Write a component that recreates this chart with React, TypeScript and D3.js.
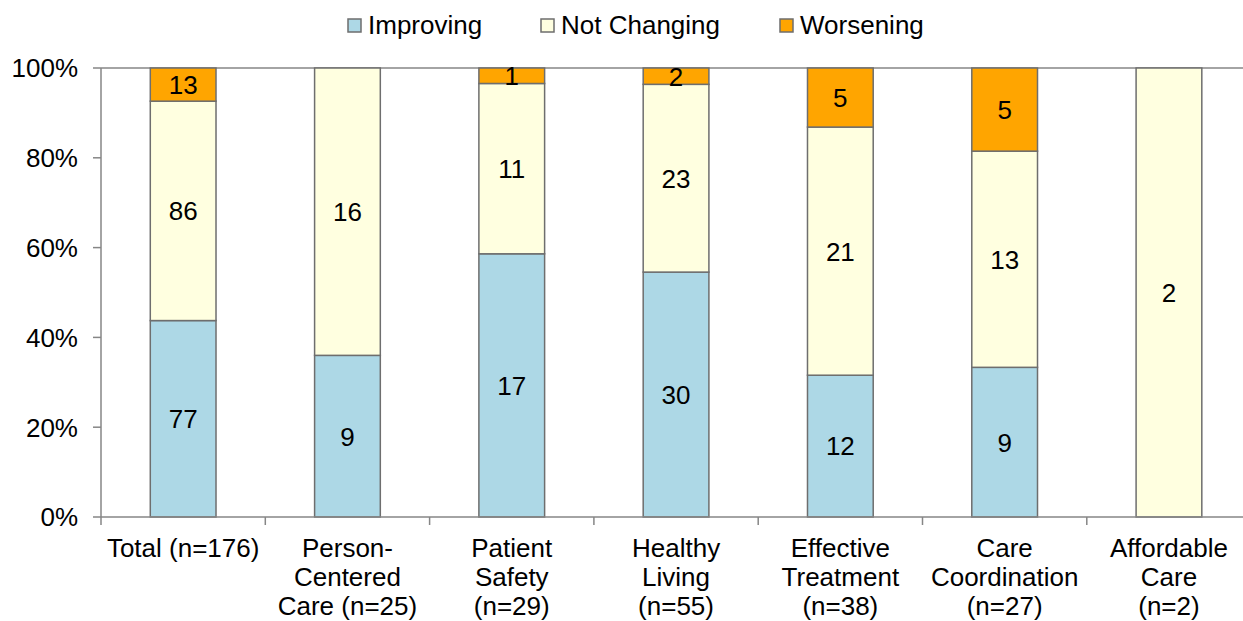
import * as d3 from "d3";
import { useEffect, useRef } from "react";

const categories = [
  ["Total (n=176)"],
  ["Person-", "Centered", "Care (n=25)"],
  ["Patient", "Safety", "(n=29)"],
  ["Healthy", "Living", "(n=55)"],
  ["Effective", "Treatment", "(n=38)"],
  ["Care", "Coordination", "(n=27)"],
  ["Affordable", "Care", "(n=2)"],
];
const improving = [77, 9, 17, 30, 12, 9, 0];
const notChanging = [86, 16, 11, 23, 21, 13, 2];
const worsening = [13, 0, 1, 2, 5, 5, 0];
const seriesNames = ["Improving", "Not Changing", "Worsening"];
const colors = ["#add8e6", "#ffffe0", "#ffa500"];
const yTicks = [0, 0.2, 0.4, 0.6, 0.8, 1];

const W = 1243;
const H = 621;
const font = "Liberation Sans, Arial, sans-serif";
const fs = 26;

function App() {
  const ref = useRef<SVGSVGElement | null>(null);

  useEffect(() => {
    const svg = d3.select(ref.current);
    svg.selectAll("*").remove();

    const margin = { top: 68, left: 101, bottom: 517 };
    const bandW = 164.3;
    const x = d3
      .scaleBand<number>()
      .domain(d3.range(categories.length))
      .range([margin.left, margin.left + bandW * categories.length])
      .paddingInner(0)
      .paddingOuter(0);
    const y = d3.scaleLinear().domain([0, 1]).range([margin.bottom, margin.top]);

    const rows = categories.map((_, i) => ({
      i,
      Improving: improving[i],
      "Not Changing": notChanging[i],
      Worsening: worsening[i],
    }));
    const stacked = d3
      .stack<any>()
      .keys(seriesNames)
      .offset(d3.stackOffsetExpand)(rows);

    const barW = x.bandwidth() * 0.4;
    const axisColor = "#868686";

    // plot frame top line
    svg
      .append("line")
      .attr("x1", margin.left)
      .attr("x2", W + 20)
      .attr("y1", margin.top)
      .attr("y2", margin.top)
      .attr("stroke", axisColor)
      .attr("stroke-width", 1.5);

    // bars
    stacked.forEach((s, si) => {
      const g = svg.append("g");
      s.forEach((d, i) => {
        const v = (rows[i] as any)[seriesNames[si]];
        if (!v) return;
        const cx = (x(i) as number) + x.bandwidth() / 2;
        g.append("rect")
          .attr("x", cx - barW / 2)
          .attr("y", y(d[1]))
          .attr("width", barW)
          .attr("height", y(d[0]) - y(d[1]))
          .attr("fill", colors[si])
          .attr("stroke", "#6e6e6e")
          .attr("stroke-width", 1.5);
        g.append("text")
          .attr("x", cx)
          .attr("y", (y(d[0]) + y(d[1])) / 2)
          .attr("dy", "0.36em")
          .attr("text-anchor", "middle")
          .attr("font-family", font)
          .attr("font-size", fs)
          .attr("fill", "#000")
          .text(v);
      });
    });

    // y axis
    svg
      .append("line")
      .attr("x1", margin.left)
      .attr("x2", margin.left)
      .attr("y1", margin.top)
      .attr("y2", margin.bottom)
      .attr("stroke", axisColor)
      .attr("stroke-width", 1.5);
    yTicks.forEach((t) => {
      svg
        .append("line")
        .attr("x1", margin.left - 8)
        .attr("x2", margin.left)
        .attr("y1", y(t))
        .attr("y2", y(t))
        .attr("stroke", axisColor)
        .attr("stroke-width", 1.5);
      svg
        .append("text")
        .attr("x", 78)
        .attr("y", y(t))
        .attr("dy", "0.36em")
        .attr("text-anchor", "end")
        .attr("font-family", font)
        .attr("font-size", fs)
        .text(d3.format(".0%")(t));
    });

    // x axis
    svg
      .append("line")
      .attr("x1", margin.left)
      .attr("x2", W + 20)
      .attr("y1", margin.bottom)
      .attr("y2", margin.bottom)
      .attr("stroke", axisColor)
      .attr("stroke-width", 1.5);
    d3.range(categories.length + 1).forEach((i) => {
      const tx = margin.left + i * x.bandwidth();
      svg
        .append("line")
        .attr("x1", tx)
        .attr("x2", tx)
        .attr("y1", margin.bottom)
        .attr("y2", margin.bottom + 8)
        .attr("stroke", axisColor)
        .attr("stroke-width", 1.5);
    });
    categories.forEach((lines, i) => {
      const cx = (x(i) as number) + x.bandwidth() / 2;
      const t = svg
        .append("text")
        .attr("text-anchor", "middle")
        .attr("font-family", font)
        .attr("font-size", fs);
      lines.forEach((l, li) => {
        t.append("tspan")
          .attr("x", cx)
          .attr("y", 557 + li * 29)
          .text(l);
      });
    });

    // legend
    const legendX = [348, 541, 780];
    seriesNames.forEach((n, i) => {
      svg
        .append("rect")
        .attr("x", legendX[i])
        .attr("y", 19)
        .attr("width", 13)
        .attr("height", 13)
        .attr("fill", colors[i])
        .attr("stroke", "#6e6e6e")
        .attr("stroke-width", 1.5);
      svg
        .append("text")
        .attr("x", legendX[i] + 20)
        .attr("y", 25)
        .attr("dy", "0.36em")
        .attr("font-family", font)
        .attr("font-size", fs)
        .text(n);
    });
  }, []);

  return (
    <svg
      ref={ref}
      width={W}
      height={H}
      style={{ position: "absolute", left: 0, top: 0, background: "#fff" }}
    ></svg>
  );
}

export default App;
